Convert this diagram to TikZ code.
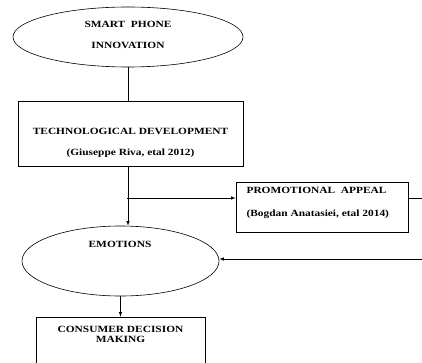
\documentclass[tikz,border=0pt]{standalone}
\usepackage{fontspec}
\setmainfont{Liberation Serif}[FakeStretch=1.2]
\usetikzlibrary{shapes.geometric}

\begin{document}
\begin{tikzpicture}[x=1pt,y=-1pt,font=\fontsize{9.5}{11.4}\selectfont\bfseries]
            \tikzstyle{oval}=[ellipse,draw,line width=0.6pt]
            \tikzstyle{box}=[rectangle,draw,line width=0.6pt]
            \tikzstyle{link}=[draw,line width=0.6pt]
            \tikzstyle{arrow}=[link,-latex]

            \useasboundingbox (0,0) rectangle (422,363);

            % shapes
            \node(innov)[oval,minimum width=230pt,minimum height=60pt]at(128,37){};
            \node(tech)[box,minimum width=225pt,minimum height=65pt]at(130.5,133.5){};
            \node(promo)[box,minimum width=172pt,minimum height=50pt]at(322,207){};
            \node(emo)[oval,minimum width=197pt,minimum height=70pt]at(120.5,261){};
            \node(cons)[box,minimum width=169pt,minimum height=63pt]at(120.5,348.5){};

            % texts
            \node(innovtext)[align=center]at(128,35){SMART\ \ PHONE\\[10pt]INNOVATION};
            \node(techtext)[align=center]at(130.5,142.5){TECHNOLOGICAL DEVELOPMENT\\[9.5pt](Giuseppe Riva, etal 2012)};
            \node(promotext)[align=left,anchor=west]at(243,202.5){PROMOTIONAL\ \ APPEAL\\[11.5pt](Bogdan Anatasiei, etal 2014)};
            \node(emotext)at(120,244){EMOTIONS};
            \node(constext)[align=center,inner sep=0pt]at(120.5,334.5){CONSUMER DECISION\\[-1pt]MAKING};

            % connectors
            \coordinate(fork)at(127,198);
            \coordinate(loopout)at(422,198);
            \coordinate(loopin)at(422,259);
            \draw[link](innov.south)--(innov.south|-tech.north);
            \draw[arrow](innov.south|-tech.south)--(innov.south|-emo.north);
            \draw[arrow](fork)--(fork-|promo.west);
            \draw[link](promo.east|-fork)--(loopout);
            \draw[arrow](loopin)--(loopin-|emo.east);
            \draw[arrow](emo.south)--(emo.south|-cons.north);
        \end{tikzpicture}
\end{document}
